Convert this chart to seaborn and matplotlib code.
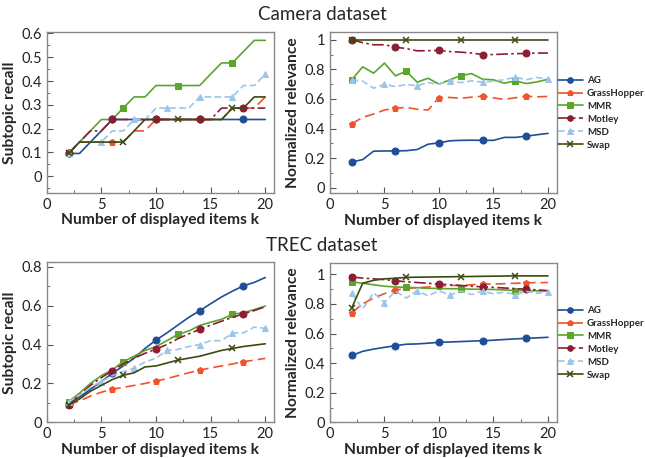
#!/usr/bin/env python
"""
Subtopic recall and normalized relevance for Camera and TREC datasets.
"""
import matplotlib

matplotlib.use("Agg")

import matplotlib.pyplot as plt
import matplotlib.ticker as ticker
import seaborn as sns

# Number of displayed items
K = list(range(2, 21))

METHODS = ["AG", "GrassHopper", "MMR", "Motley", "MSD", "Swap"]

# Camera dataset - subtopic recall
cam_recall_ag = [0.095, 0.095, 0.143, 0.19, 0.238, 0.238, 0.238, 0.238, 0.238, 0.238,
                 0.238, 0.238, 0.238, 0.238, 0.238, 0.238, 0.238, 0.238, 0.238]
cam_recall_gh = [0.095, 0.143, 0.143, 0.143, 0.143, 0.143, 0.19, 0.19, 0.238, 0.238,
                 0.238, 0.238, 0.238, 0.238, 0.238, 0.286, 0.286, 0.286, 0.333]
cam_recall_mmr = [0.095, 0.143, 0.19, 0.238, 0.238, 0.286, 0.333, 0.333, 0.381, 0.381,
                  0.381, 0.381, 0.381, 0.429, 0.476, 0.476, 0.524, 0.571, 0.571]
cam_recall_motley = [0.095, 0.143, 0.19, 0.19, 0.238, 0.238, 0.238, 0.238, 0.238, 0.238,
                     0.238, 0.238, 0.238, 0.238, 0.286, 0.286, 0.286, 0.286, 0.286]
cam_recall_msd = [0.095, 0.143, 0.143, 0.143, 0.19, 0.19, 0.238, 0.238, 0.286, 0.286,
                  0.286, 0.286, 0.333, 0.333, 0.333, 0.333, 0.381, 0.381, 0.429]
cam_recall_swap = [0.095, 0.143, 0.143, 0.143, 0.143, 0.143, 0.19, 0.238, 0.238, 0.238,
                   0.238, 0.238, 0.238, 0.238, 0.238, 0.286, 0.286, 0.333, 0.333]

# Camera dataset - normalized relevance
cam_rel_ag = [0.174, 0.19, 0.247, 0.248, 0.249, 0.25, 0.258, 0.294, 0.303, 0.317,
              0.32, 0.321, 0.32, 0.32, 0.34, 0.34, 0.348, 0.358, 0.367]
cam_rel_gh = [0.432, 0.475, 0.498, 0.525, 0.536, 0.543, 0.53, 0.525, 0.609, 0.61,
              0.604, 0.612, 0.618, 0.607, 0.597, 0.608, 0.618, 0.614, 0.617]
cam_rel_mmr = [0.729, 0.817, 0.774, 0.842, 0.756, 0.787, 0.713, 0.74, 0.70, 0.729,
               0.758, 0.771, 0.733, 0.729, 0.706, 0.722, 0.704, 0.715, 0.733]
cam_rel_motley = [1.0, 0.98, 0.966, 0.966, 0.95, 0.94, 0.925, 0.926, 0.928, 0.92,
                  0.916, 0.91, 0.90, 0.90, 0.903, 0.906, 0.907, 0.91, 0.91]
cam_rel_msd = [0.729, 0.72, 0.672, 0.70, 0.683, 0.698, 0.69, 0.71, 0.70, 0.722,
               0.71, 0.722, 0.713, 0.72, 0.73, 0.747, 0.73, 0.745, 0.735]
cam_rel_swap = [1.0] * 19

# TREC dataset - subtopic recall
trec_recall_ag = [0.094, 0.13, 0.17, 0.21, 0.252, 0.29, 0.33, 0.38, 0.423, 0.46,
                  0.50, 0.54, 0.574, 0.61, 0.645, 0.675, 0.702, 0.72, 0.745]
trec_recall_gh = [0.09, 0.11, 0.135, 0.155, 0.17, 0.18, 0.19, 0.20, 0.212, 0.225,
                  0.24, 0.255, 0.268, 0.28, 0.29, 0.30, 0.312, 0.32, 0.329]
trec_recall_mmr = [0.106, 0.15, 0.20, 0.24, 0.27, 0.312, 0.34, 0.37, 0.389, 0.42,
                   0.452, 0.47, 0.498, 0.515, 0.53, 0.555, 0.565, 0.58, 0.598]
trec_recall_motley = [0.09, 0.14, 0.19, 0.23, 0.265, 0.30, 0.33, 0.355, 0.377, 0.40,
                      0.43, 0.455, 0.478, 0.50, 0.52, 0.54, 0.558, 0.575, 0.595]
trec_recall_msd = [0.105, 0.14, 0.18, 0.21, 0.24, 0.26, 0.28, 0.31, 0.33, 0.37,
                   0.375, 0.39, 0.40, 0.42, 0.42, 0.46, 0.46, 0.49, 0.483]
trec_recall_swap = [0.089, 0.12, 0.16, 0.19, 0.22, 0.242, 0.255, 0.285, 0.29, 0.305,
                    0.32, 0.33, 0.34, 0.355, 0.37, 0.38, 0.39, 0.397, 0.404]

# TREC dataset - normalized relevance
trec_rel_ag = [0.452, 0.48, 0.495, 0.507, 0.518, 0.528, 0.53, 0.535, 0.541, 0.543,
               0.546, 0.549, 0.552, 0.555, 0.56, 0.564, 0.568, 0.571, 0.575]
trec_rel_gh = [0.742, 0.80, 0.84, 0.87, 0.894, 0.905, 0.91, 0.915, 0.92, 0.925,
               0.925, 0.93, 0.934, 0.935, 0.937, 0.94, 0.943, 0.945, 0.945]
trec_rel_mmr = [0.95, 0.94, 0.93, 0.92, 0.915, 0.912, 0.91, 0.906, 0.905, 0.903,
                0.903, 0.90, 0.899, 0.898, 0.895, 0.891, 0.89, 0.889, 0.888]
trec_rel_motley = [0.982, 0.975, 0.97, 0.965, 0.957, 0.95, 0.945, 0.94, 0.934, 0.93,
                   0.925, 0.92, 0.916, 0.912, 0.908, 0.904, 0.90, 0.895, 0.89]
trec_rel_msd = [0.871, 0.765, 0.876, 0.81, 0.887, 0.84, 0.889, 0.855, 0.889, 0.86,
                0.887, 0.864, 0.887, 0.869, 0.88, 0.864, 0.885, 0.873, 0.882]
trec_rel_swap = [0.774, 0.94, 0.96, 0.97, 0.974, 0.98, 0.981, 0.982, 0.983, 0.984,
                 0.985, 0.986, 0.987, 0.988, 0.989, 0.99, 0.99, 0.99, 0.99]

# Line style for each method
COLORS = {
    "AG": "#1f4e96",
    "GrassHopper": "#f0532b",
    "MMR": "#5ba52a",
    "Motley": "#8c1d34",
    "MSD": "#9cc5ea",
    "Swap": "#3c4a10",
}
STYLES = {
    "AG": dict(linestyle="-", marker="o", markevery=4, markersize=5),
    "GrassHopper": dict(linestyle=(0, (6, 3)), marker="p", markevery=4, markersize=5),
    "MMR": dict(linestyle="-", marker="s", markevery=5, markersize=5),
    "Motley": dict(linestyle=(0, (7, 2, 1.5, 2)), marker="o", markevery=4,
                   markersize=5),
    "MSD": dict(linestyle=(0, (4, 2)), marker="^", markevery=3, markersize=5),
    "Swap": dict(linestyle="-", marker="x", markevery=5, markersize=5,
                 markeredgewidth=1.1),
}


def draw_panel(ax, series, ylim, ymajor, yminor, ylabel, legend=False):
    """
    Draw one panel with all methods.
    """
    for name, values in zip(METHODS, series):
        sns.lineplot(x=K, y=values, ax=ax, linewidth=1.2, label=name,
                     legend=False, color=COLORS[name],
                     markeredgecolor=COLORS[name], markerfacecolor=COLORS[name],
                     **STYLES[name])
    ax.set_xlim(0, 20.8)
    ax.set_ylim(*ylim)
    ax.xaxis.set_major_locator(ticker.MultipleLocator(5))
    ax.xaxis.set_minor_locator(ticker.MultipleLocator(2.5))
    ax.yaxis.set_major_locator(ticker.MultipleLocator(ymajor))
    ax.yaxis.set_minor_locator(ticker.MultipleLocator(yminor))
    ax.yaxis.set_major_formatter(
        ticker.FuncFormatter(lambda v, pos: "{:g}".format(round(v, 2)))
    )
    ax.tick_params(which="both", direction="in", color="#555555",
                   labelsize=10.5, labelcolor="#222222")
    ax.tick_params(which="major", length=4)
    ax.tick_params(which="minor", length=2.5)
    for spine in ax.spines.values():
        spine.set_color("#888888")
        spine.set_linewidth(1.0)
    ax.set_xlabel("Number of displayed items k", fontsize=11.2,
                  fontweight="bold", labelpad=1)
    ax.set_ylabel(ylabel, fontsize=11.2, fontweight="bold", labelpad=3)
    if legend:
        ax.legend(loc="center left", bbox_to_anchor=(1.0, 0.5), frameon=False,
                  prop={"size": 7, "weight": "bold"}, handlelength=2.6,
                  handletextpad=0.4, labelspacing=0.4, borderaxespad=0.1,
                  borderpad=0, markerscale=0.8)


sns.set_style("ticks")
plt.rcParams["font.family"] = ["Lato", "DejaVu Sans"]

fig = plt.figure(figsize=(6.45, 4.58), dpi=100)

ax1 = fig.add_axes([0.0724, 0.5793, 0.3524, 0.3502])
ax2 = fig.add_axes([0.5116, 0.5779, 0.3515, 0.3515])
ax3 = fig.add_axes([0.0724, 0.0779, 0.3524, 0.3493])
ax4 = fig.add_axes([0.5116, 0.0779, 0.3515, 0.3472])

draw_panel(ax1, [cam_recall_ag, cam_recall_gh, cam_recall_mmr, cam_recall_motley,
                 cam_recall_msd, cam_recall_swap],
           (-0.07, 0.605), 0.1, 0.05, "Subtopic recall")
draw_panel(ax2, [cam_rel_ag, cam_rel_gh, cam_rel_mmr, cam_rel_motley,
                 cam_rel_msd, cam_rel_swap],
           (-0.038, 1.05), 0.2, 0.1, "Normalized relevance", legend=True)
draw_panel(ax3, [trec_recall_ag, trec_recall_gh, trec_recall_mmr, trec_recall_motley,
                 trec_recall_msd, trec_recall_swap],
           (0, 0.823), 0.2, 0.1, "Subtopic recall")
draw_panel(ax4, [trec_rel_ag, trec_rel_gh, trec_rel_mmr, trec_rel_motley,
                 trec_rel_msd, trec_rel_swap],
           (0, 1.075), 0.2, 0.1, "Normalized relevance", legend=True)

fig.text(0.4995, 0.969, "Camera dataset", ha="center", va="center", fontsize=13.5)
fig.text(0.4995, 0.463, "TREC dataset", ha="center", va="center", fontsize=13.5)

fig.savefig("out.png", dpi=100)
